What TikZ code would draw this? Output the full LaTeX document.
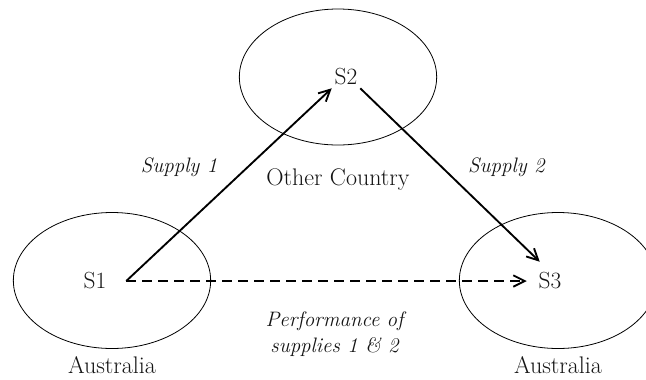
\documentclass[tikz,border=0pt]{standalone}
\usepackage{fontspec}
\usepackage{tikz}
\usetikzlibrary{arrows.meta, positioning, shapes.geometric}
\definecolor{inkText}{RGB}{20,20,20}
\tikzset{
    region/.style={
        ellipse,
        draw=black,
        line width=0.6pt,
        minimum width=148pt,
        minimum height=102pt
    },
    site/.style={
        text=inkText,
        inner sep=2pt,
        font=\fontsize{17.5}{20}\selectfont
    },
    place/.style={
        text=inkText,
        inner sep=1pt,
        font=\fontsize{18}{21}\selectfont
    },
    flowlabel/.style={
        text=inkText,
        inner sep=1pt,
        align=center,
        font=\fontsize{15.7}{19.5}\selectfont\itshape
    },
    supplyarrow/.style={-{Straight Barb[length=3mm, width=3mm]}, line width=1.4pt, draw=black},
    dealarrow/.style={supplyarrow, dash pattern=on 7.5pt off 4.5pt}
}

\begin{document}
\begin{tikzpicture}[x=0.75pt, y=-0.75pt]
        \useasboundingbox (0,0) rectangle (646,379);

        \node[region] (other) at (338,77) {};
        \node[region] (ausL) at (112,280.5) {};
        \node[region] (ausR) at (558,280.5) {};

        \node[site] (s2) at (346,77) {S2};
        \node[site] (s1) at (95,281) {S1};
        \node[site] (s3) at (550,281) {S3};

        \node[place, below=16.5pt of other] (otherName) {Other Country};
        \node[place, below=4.5pt of ausL] (ausNameL) {Australia};
        \node[place, below=4.5pt of ausR] (ausNameR) {Australia};

        \draw[supplyarrow] ([xshift=12.75pt]s1.east) -- node[flowlabel, pos=0.59, left=21pt]{Supply 1} (s2.south west);
        \draw[supplyarrow] (s2.south east) -- node[flowlabel, pos=0.455, right=18pt]{Supply 2} ([shift={(3pt,6pt)}]s3.north west);
        \draw[dealarrow] ([xshift=12.75pt]s1.east) -- node[flowlabel, pos=0.52, below=21pt]{Performance of\\supplies 1 \& 2} ([xshift=-6.75pt]s3.west);
    \end{tikzpicture}
\end{document}
